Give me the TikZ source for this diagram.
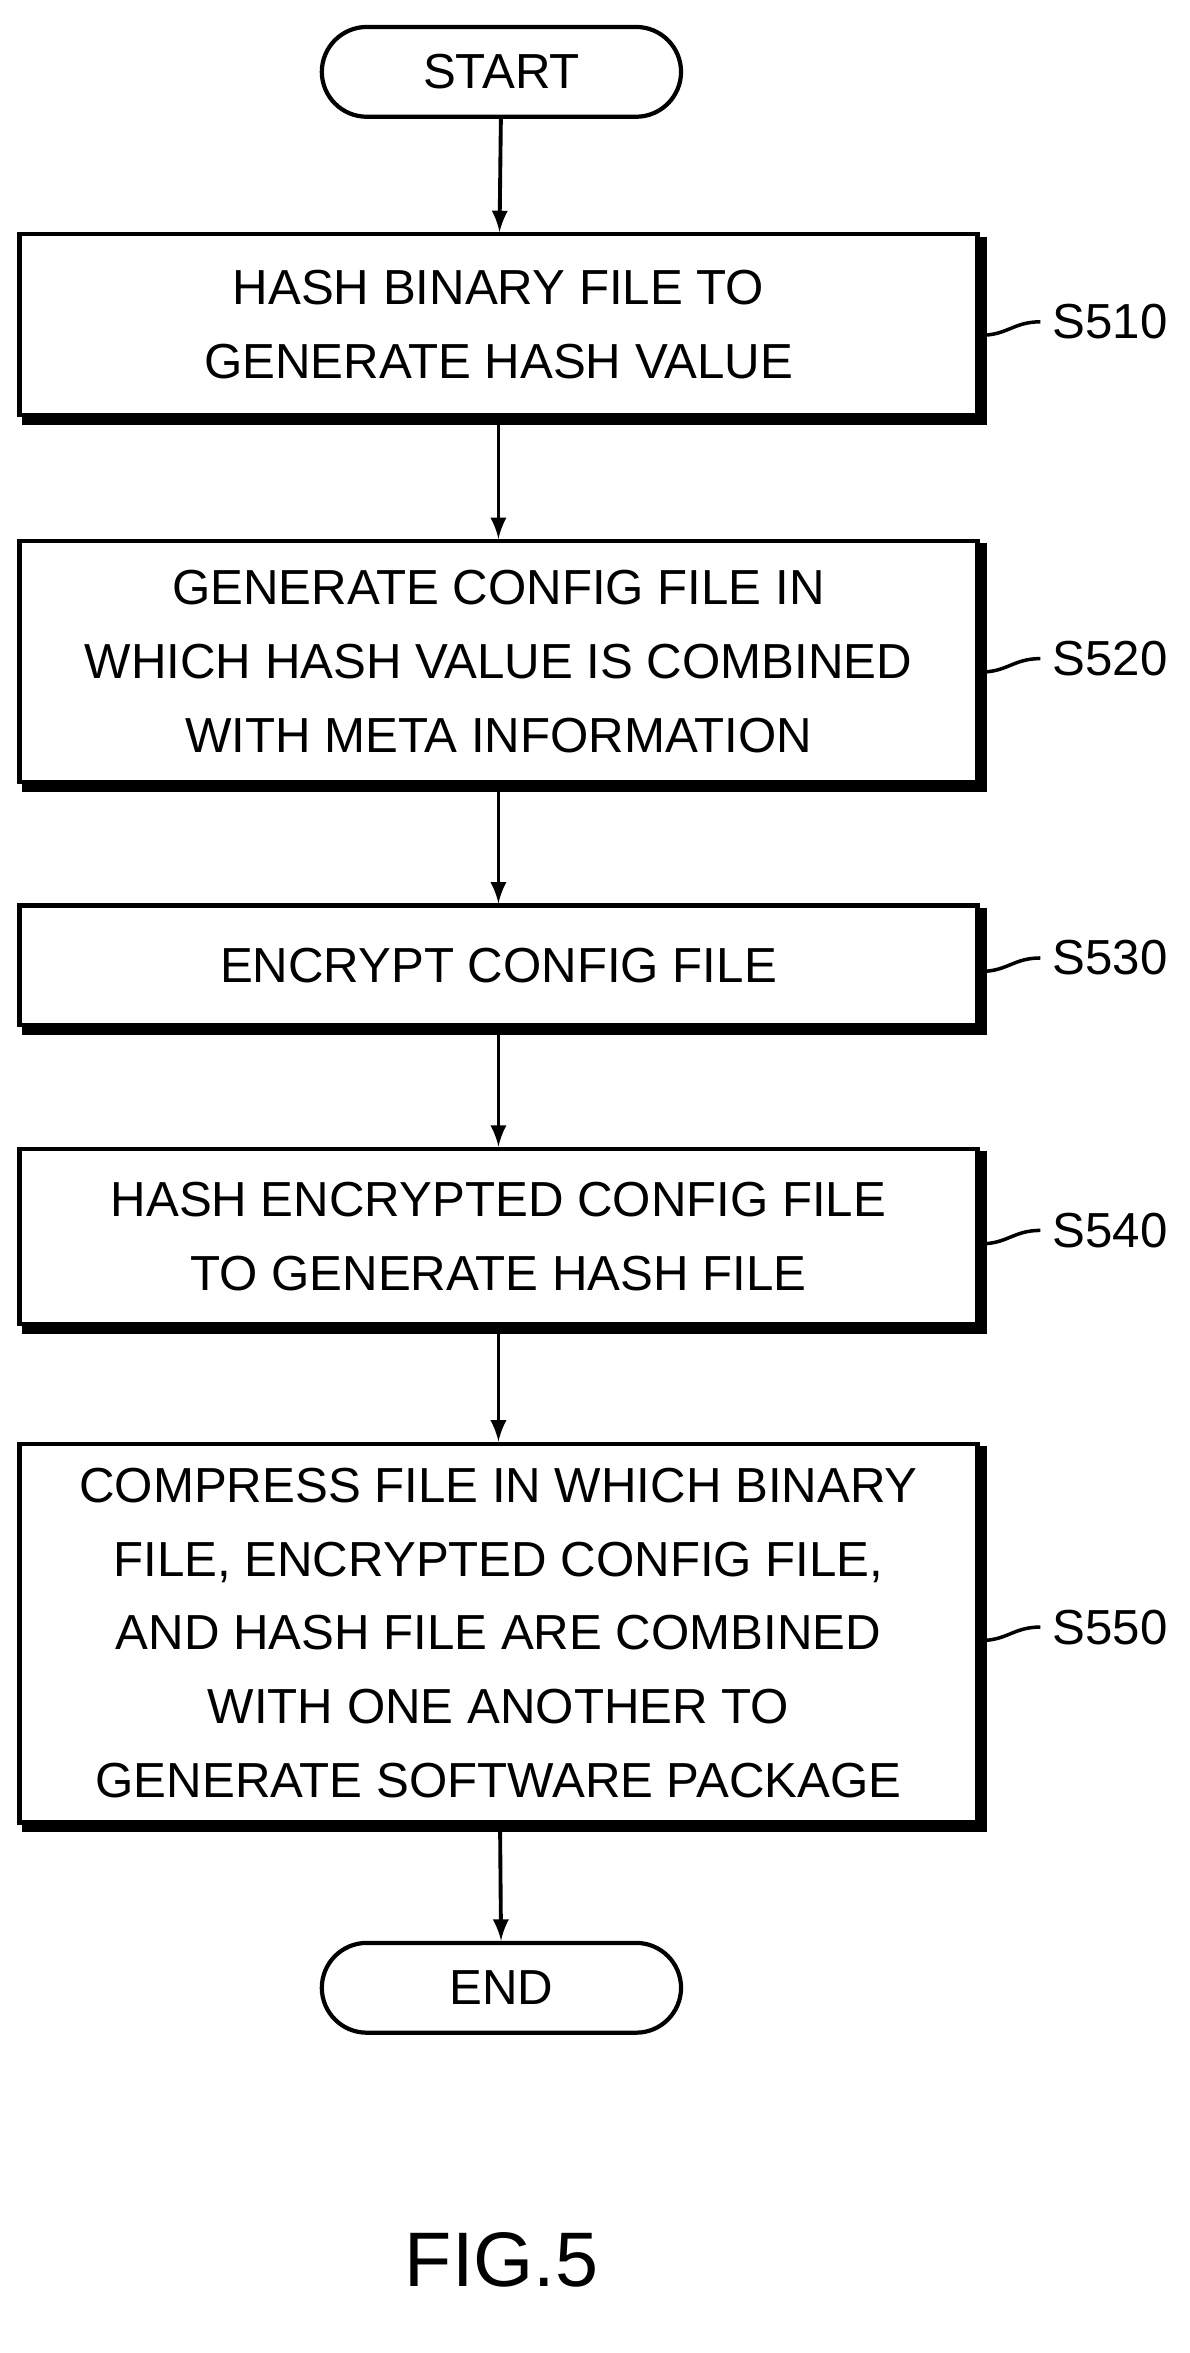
\documentclass[tikz,border=0pt]{standalone}
\usepackage{fontspec}
\setmainfont{Liberation Sans}
\usetikzlibrary{positioning,calc}
\tikzset{
  stepbox/.style={draw, line width=1.2pt, align=center, minimum width=640*0.01497cm,
    font=\fontsize{14}{21}\selectfont},
  term/.style={draw, line width=1.2pt, rounded corners=0.45cm, minimum width=240*0.01497cm,
    minimum height=60*0.01497cm, font=\fontsize{14}{21}\selectfont},
  steplabel/.style={font=\fontsize{14}{18}\selectfont, anchor=west},
  flow/.style={-latex, line width=1.1pt}
}
\begin{document}
\begin{tikzpicture}[x=0.01497cm, y=-0.01497cm]
\useasboundingbox (0,0) rectangle (795,1572);
% terminals and steps
\node[term] (start) at (335,48) {START};
\node[stepbox, minimum height=121*0.01497cm] (s1) at (333,217) {HASH BINARY FILE TO\\GENERATE HASH VALUE};
\node[stepbox, minimum height=161*0.01497cm] (s2) at (333,442) {GENERATE CONFIG FILE IN\\WHICH HASH VALUE IS COMBINED\\WITH META INFORMATION};
\node[stepbox, minimum height=80*0.01497cm] (s3) at (333,645) {ENCRYPT CONFIG FILE};
\node[stepbox, minimum height=117*0.01497cm] (s4) at (333,826) {HASH ENCRYPTED CONFIG FILE\\TO GENERATE HASH FILE};
\node[stepbox, minimum height=253*0.01497cm] (s5) at (333,1091) {COMPRESS FILE IN WHICH BINARY\\FILE, ENCRYPTED CONFIG FILE,\\AND HASH FILE ARE COMBINED\\WITH ONE ANOTHER TO\\GENERATE SOFTWARE PACKAGE};
\node[term] (end) at (335,1328) {END};
% shadow edges
\foreach \s in {s1,s2,s3,s4,s5}
  \draw[line width=2.6pt] ($(\s.north east)+(2,3)$) -- ($(\s.south east)+(2,2)$) -- ($(\s.south west)+(3,2)$);
% labels
\node[steplabel] (l1) at (695,215) {S510};
\node[steplabel] (l2) at (695,440) {S520};
\node[steplabel] (l3) at (695,640) {S530};
\node[steplabel] (l4) at (695,822) {S540};
\node[steplabel] (l5) at (695,1087) {S550};
\foreach \l in {l1,l2,l3,l4,l5}
  \draw[line width=1pt] ($(\l.west)+(-40,9)$) .. controls +(18,0) and +(-18,0) .. (\l.west);
% arrows
\draw[flow] (start) -- (s1);
\draw[flow] (s1) -- (s2);
\draw[flow] (s2) -- (s3);
\draw[flow] (s3) -- (s4);
\draw[flow] (s4) -- (s5);
\draw[flow] (s5) -- (end);
\node[font=\fontsize{22}{26}\selectfont] (fig) at (335,1510) {FIG.5};
\end{tikzpicture}
\end{document}
